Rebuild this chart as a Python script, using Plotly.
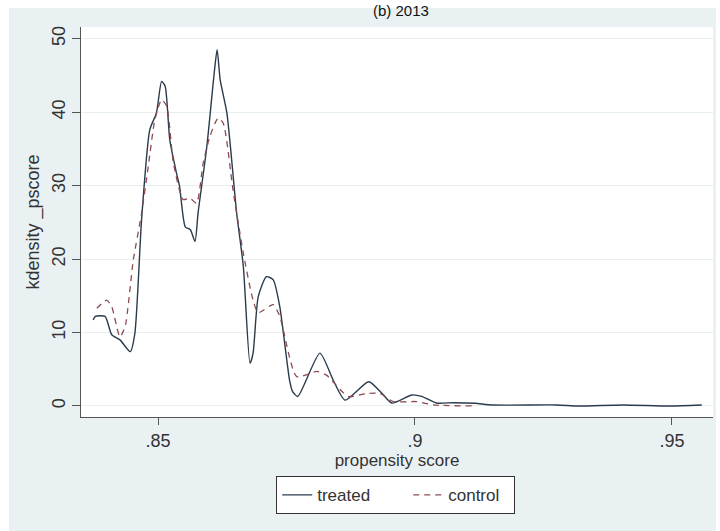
import plotly.graph_objects as go

# Kernel density of the propensity score, treated vs control
treated_x = [0.8374, 0.8378, 0.8397, 0.8410, 0.8426, 0.8446, 0.8455, 0.8468, 0.8484,
             0.8497, 0.8507, 0.8514, 0.8523, 0.8536, 0.8542, 0.8553, 0.8563, 0.8572,
             0.8578, 0.8595, 0.8608, 0.8615, 0.8621, 0.8634, 0.8653, 0.8666, 0.8679,
             0.8685, 0.8695, 0.8711, 0.8724, 0.8737, 0.8756, 0.8762, 0.8772, 0.8815,
             0.8841, 0.8864, 0.8910, 0.8936, 0.8955, 0.8994, 0.9013, 0.9042, 0.9075,
             0.9117, 0.9150, 0.9276, 0.9318, 0.9405, 0.9496, 0.9558]
treated_y = [11.7, 12.2, 12.2, 9.7, 9.0, 7.4, 9.9, 25.3, 37.6,
             39.9, 44.2, 43.5, 36.2, 31.7, 29.9, 24.4, 24.0, 22.4,
             26.3, 35.3, 44.4, 48.5, 44.4, 39.9, 26.3, 19.0, 5.8,
             7.2, 14.9, 17.6, 17.2, 13.5, 3.5, 1.95, 1.3, 7.2,
             3.5, 0.8, 3.3, 1.7, 0.4, 1.5, 1.3, 0.4, 0.45,
             0.37, 0.14, 0.14, 0.0, 0.14, 0.0, 0.14]

control_x = [0.8381, 0.8400, 0.8410, 0.8426, 0.8436, 0.8452, 0.8468, 0.8481, 0.8494,
             0.8507, 0.8517, 0.8530, 0.8549, 0.8562, 0.8575, 0.8588, 0.8601, 0.8617,
             0.8627, 0.8646, 0.8666, 0.8685, 0.8695, 0.8724, 0.8737, 0.8770, 0.8809,
             0.8828, 0.8870, 0.8906, 0.8932, 0.8958, 0.9003, 0.9036, 0.9113]
control_y = [13.3, 14.4, 13.5, 9.4, 10.8, 19.9, 26.2, 32.6, 39.0,
             41.7, 40.8, 33.1, 28.1, 28.3, 27.6, 33.1, 36.7, 39.2,
             38.5, 29.4, 20.8, 14.4, 12.7, 13.8, 12.2, 4.0, 4.7,
             4.2, 1.3, 1.7, 1.7, 0.6, 0.6, 0.14, 0.0]

x_ticks = [0.85, 0.9, 0.95]
x_tick_text = [".85", ".9", ".95"]
y_ticks = [0, 10, 20, 30, 40, 50]

FONT = "Liberation Sans, Arial, sans-serif"
BG = "#eaf1f3"
NB = "\u00a0"

fig = go.Figure()
fig.add_trace(go.Scatter(
    x=treated_x, y=treated_y, mode="lines", name="treated" + NB * 7,
    line=dict(color="#2a3b4c", width=1.4, shape="spline", smoothing=0.6),
))
fig.add_trace(go.Scatter(
    x=control_x, y=control_y, mode="lines", name="control" + NB * 2,
    line=dict(color="#8e4a52", width=1.3, dash="6px,5px", shape="spline", smoothing=0.6),
))

# white page margins around the graph region
strip = dict(type="rect", xref="paper", yref="paper", layer="above",
             fillcolor="white", line=dict(width=0))
fig.add_shape(x0=-0.13, x1=-0.1139, y0=-0.31, y1=1.08, **strip)   # left
fig.add_shape(x0=-0.13, x1=1.02, y0=1.0487, y1=1.08, **strip)     # top
fig.add_shape(x0=1.0047, x1=1.02, y0=-0.31, y1=1.08, **strip)     # right

fig.add_annotation(text="(b) 2013", xref="paper", yref="paper",
                   x=0.506, y=1.0692, xanchor="center", yanchor="top",
                   showarrow=False, font=dict(family=FONT, size=15, color="#111"))

fig.update_layout(
    width=720, height=531,
    margin=dict(l=81, r=7, t=27, b=114),
    paper_bgcolor=BG, plot_bgcolor="white",
    font=dict(family=FONT, size=18, color="#333"),
    showlegend=True,
    legend=dict(orientation="h", x=0.498, xanchor="center", y=-0.152, yanchor="top",
                bgcolor="white", bordercolor="#333", borderwidth=1,
                font=dict(family=FONT, size=17, color="#333"),
                tracegroupgap=0),
)
fig.update_xaxes(
    range=[0.83502, 0.95798], tickvals=x_ticks, ticktext=x_tick_text,
    showgrid=False, zeroline=False, showline=True, linecolor="#555", linewidth=1.3,
    ticks="outside", ticklen=7, tickcolor="#555", tickfont=dict(size=18),
    title=dict(text="propensity score", standoff=0, font=dict(size=17)),
)
fig.update_yaxes(
    range=[-1.5, 51.6], tickvals=y_ticks, tickangle=-90,
    showgrid=True, gridcolor="#e8eff0", gridwidth=1, zeroline=False,
    showline=True, linecolor="#555", linewidth=1.3,
    ticks="outside", ticklen=8, tickcolor="#555", tickfont=dict(size=18),
    title=dict(text="kdensity _pscore", standoff=4, font=dict(size=18)),
)

fig.write_html("out.html")
